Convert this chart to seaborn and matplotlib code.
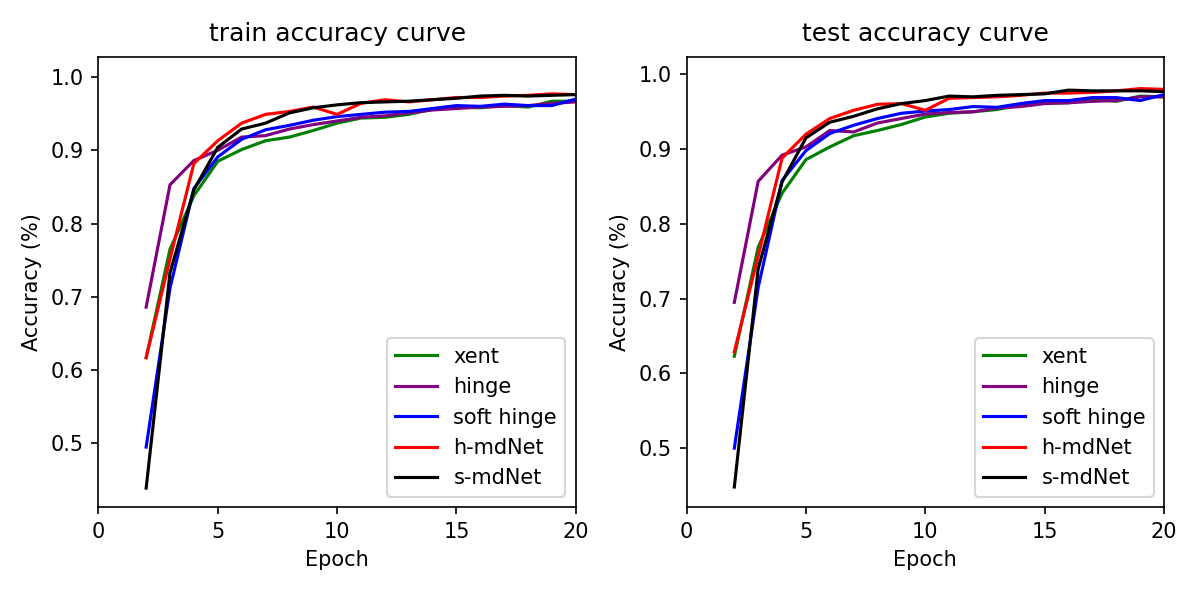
import matplotlib
matplotlib.use("Agg")
import matplotlib.pyplot as plt
import seaborn as sns

epochs = list(range(2, 21))
names = ["xent", "hinge", "soft hinge", "h-mdNet", "s-mdNet"]
colors = ["green", "purple", "blue", "red", "black"]

# train accuracy per epoch
train_xent = [0.617, 0.765, 0.838, 0.885, 0.901, 0.913, 0.918, 0.927, 0.937, 0.944,
              0.945, 0.949, 0.956, 0.959, 0.958, 0.961, 0.959, 0.967, 0.967]
train_hinge = [0.686, 0.853, 0.886, 0.900, 0.918, 0.920, 0.929, 0.935, 0.940, 0.945,
               0.947, 0.951, 0.955, 0.957, 0.959, 0.960, 0.961, 0.964, 0.966]
train_soft = [0.495, 0.712, 0.848, 0.891, 0.915, 0.928, 0.934, 0.941, 0.946, 0.949,
              0.952, 0.953, 0.957, 0.961, 0.960, 0.963, 0.961, 0.961, 0.970]
train_hmd = [0.617, 0.752, 0.882, 0.913, 0.937, 0.949, 0.953, 0.959, 0.949, 0.964,
             0.969, 0.966, 0.969, 0.972, 0.972, 0.974, 0.975, 0.977, 0.976]
train_smd = [0.439, 0.733, 0.846, 0.904, 0.929, 0.937, 0.951, 0.958, 0.962, 0.965,
             0.966, 0.967, 0.969, 0.971, 0.974, 0.975, 0.974, 0.975, 0.976]

# test accuracy per epoch
test_xent = [0.623, 0.769, 0.841, 0.886, 0.903, 0.918, 0.925, 0.933, 0.943, 0.948,
             0.950, 0.953, 0.959, 0.962, 0.962, 0.967, 0.964, 0.971, 0.970]
test_hinge = [0.695, 0.857, 0.892, 0.903, 0.925, 0.923, 0.935, 0.941, 0.947, 0.949,
              0.950, 0.955, 0.957, 0.961, 0.962, 0.964, 0.965, 0.970, 0.970]
test_soft = [0.500, 0.715, 0.858, 0.898, 0.921, 0.932, 0.941, 0.948, 0.951, 0.953,
             0.957, 0.956, 0.961, 0.965, 0.965, 0.969, 0.969, 0.965, 0.973]
test_hmd = [0.629, 0.757, 0.888, 0.920, 0.941, 0.952, 0.960, 0.961, 0.952, 0.968,
            0.969, 0.970, 0.972, 0.975, 0.975, 0.976, 0.978, 0.981, 0.980]
test_smd = [0.448, 0.740, 0.856, 0.915, 0.936, 0.944, 0.954, 0.961, 0.965, 0.971,
            0.970, 0.972, 0.973, 0.974, 0.979, 0.978, 0.978, 0.978, 0.977]

train_curves = [train_xent, train_hinge, train_soft, train_hmd, train_smd]
test_curves = [test_xent, test_hinge, test_soft, test_hmd, test_smd]

fig, axes = plt.subplots(1, 2, figsize=(8, 596 / 150), dpi=150)
plt.subplots_adjust(left=0.082, right=0.97, bottom=0.149, top=0.904, wspace=0.232)

panels = [
    (axes[0], train_curves, "train accuracy curve", (0.413, 1.027)),
    (axes[1], test_curves, "test accuracy curve", (0.421, 1.023)),
]

for ax, curves, title, ylim in panels:
    for name, col, vals in zip(names, colors, curves):
        sns.lineplot(x=epochs, y=vals, color=col, label=name, linewidth=1.5, ax=ax)
    ax.set_xlim(0, 20)
    ax.set_xticks([0, 5, 10, 15, 20])
    ax.set_ylim(*ylim)
    ax.set_title(title, fontsize=12, pad=8)
    ax.set_xlabel("Epoch")
    ax.set_ylabel("Accuracy (%)")
    ax.legend(loc="lower right", fontsize=10)

plt.savefig("out.png", dpi=150)
